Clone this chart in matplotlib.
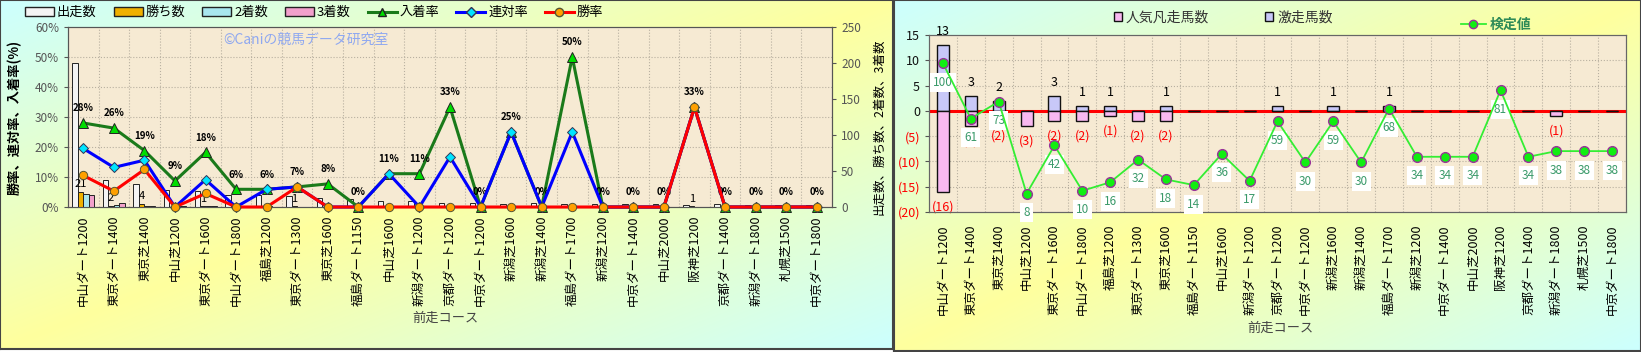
import matplotlib.pyplot as plt
import numpy as np
from matplotlib.patches import Patch
from matplotlib.lines import Line2D

plt.rcParams['font.family'] = ['Noto Sans CJK JP', 'DejaVu Sans']

# Data
courses = ['中山ダート1200', '東京ダート1400', '東京芝1400', '中山芝1200', '東京ダート1600',
           '中山ダート1800', '福島芝1200', '東京ダート1300', '東京芝1600', '福島ダート1150',
           '中山芝1600', '新潟ダート1200', '京都ダート1200', '中京ダート1200', '新潟芝1600',
           '新潟芝1400', '福島ダート1700', '新潟芝1200', '中京ダート1400', '中山芝2000',
           '阪神芝1200', '京都ダート1400', '新潟ダート1800', '札幌芝1500', '中京ダート1800']
starts = [200, 38, 32, 23, 22, 17, 17, 15, 13, 11, 9, 9, 6, 6, 4, 5, 4, 4, 4, 4, 3, 4, 3, 3, 3]
wins = [21, 2, 4, 0, 1, 0, 0, 1, 0, 0, 0, 0, 0, 0, 0, 0, 0, 0, 0, 0, 1, 0, 0, 0, 0]
seconds = [18, 3, 1, 0, 1, 0, 1, 0, 0, 0, 1, 0, 1, 0, 1, 0, 1, 0, 0, 0, 0, 0, 0, 0, 0]
thirds = [17, 5, 1, 2, 2, 1, 0, 0, 1, 0, 0, 1, 1, 0, 0, 0, 1, 0, 0, 0, 0, 0, 0, 0, 0]
win_rate = [10.5, 5.3, 12.5, 0, 4.5, 0, 0, 6.7, 0, 0, 0, 0, 0, 0, 0, 0, 0, 0, 0, 0, 33.3, 0, 0, 0, 0]
rentai_rate = [19.5, 13.2, 15.6, 0, 9.1, 0, 5.9, 6.7, 0, 0, 11.1, 0, 16.7, 0, 25, 0, 25, 0, 0, 0,
               33.3, 0, 0, 0, 0]
place_rate = [28, 26.3, 18.8, 8.7, 18.2, 5.9, 5.9, 6.7, 7.7, 0, 11.1, 11.1, 33.3, 0, 25, 0, 50, 0, 0, 0,
              33.3, 0, 0, 0, 0]

gekisou = [13, 3, 2, 0, 3, 1, 1, 0, 1, 0, 0, 0, 1, 0, 1, 0, 1, 0, 0, 0, 0, 0, 0, 0, 0]
bonsou = [16, 3, 2, 3, 2, 2, 1, 2, 2, 0, 0, 0, 0, 0, 0, 0, 0, 0, 0, 0, 0, 0, 1, 0, 0]
kentei = [100, 61, 73, 8, 42, 10, 16, 32, 18, 14, 36, 17, 59, 30, 59, 30, 68, 34, 34, 34, 81, 34, 38, 38, 38]

W, H = 1641, 352
fig = plt.figure(figsize=(W / 100, H / 100), dpi=100)
plot_bg = '#f6ead3'
grid_kw = dict(color='#b8b0a0', ls=':', lw=0.8, zorder=1)


def panel_bg(x0, x1, y0, y1):
    ax = fig.add_axes([x0 / W, 1 - y1 / H, (x1 - x0) / W, (y1 - y0) / H])
    ax.set_zorder(-5)
    xx, yy = np.meshgrid(np.linspace(0, 1, 300), np.linspace(0, 1, 300))
    f = (1 - np.abs(xx + yy - 1))[..., None]
    cyan = np.array([0.80, 1.0, 1.0])
    yellow = np.array([1.0, 1.0, 0.62])
    ax.imshow(cyan * (1 - f) + yellow * f, extent=[0, 1, 0, 1], aspect='auto', origin='upper')
    ax.set_xticks([])
    ax.set_yticks([])
    for s in ax.spines.values():
        s.set_color('#444')
        s.set_linewidth(1.5)


panel_bg(0, 893, 0, 349)
panel_bg(894, 1641, 0, 351)

x = np.arange(len(courses))

# ---------------- left panel ----------------
axb = fig.add_axes([68 / W, 1 - 207 / H, 764 / W, 180 / H])
axb.set_facecolor(plot_bg)
bw = 0.18
axb.bar(x - 0.27, starts, bw, color='#f4f4f4', edgecolor='#222', lw=0.7, zorder=3)
axb.bar(x - 0.09, wins, bw, color='#f0b000', edgecolor='#222', lw=0.7, zorder=3)
axb.bar(x + 0.09, seconds, bw, color='#a8e6ee', edgecolor='#222', lw=0.7, zorder=3)
axb.bar(x + 0.27, thirds, bw, color='#f2a0cc', edgecolor='#222', lw=0.7, zorder=3)
for i, w in enumerate(wins):
    if w > 0:
        axb.annotate(str(w), (i - 0.09, w), xytext=(0, 2), textcoords='offset points',
                     ha='center', va='bottom', fontsize=8)
axb.set_xlim(-0.5, len(courses) - 0.5)
axb.set_ylim(0, 250)
for k in range(1, 6):
    axb.axhline(250 / 6 * k, **grid_kw)
for i in range(len(courses) - 1):
    axb.axvline(i + 0.5, **grid_kw)
axb.set_xticks(x)
axb.set_xticklabels(courses, rotation=90, fontsize=9)
axb.tick_params(axis='x', length=0, pad=6)
for s in axb.spines.values():
    s.set_color('#555')

axp = axb.twinx()
# twinx moves the original ticks to the left, so put them back on the right
axb.yaxis.tick_right()
axb.set_yticks(range(0, 251, 50))
axb.tick_params(axis='y', labelsize=8.5, labelcolor='#555', length=3, color='#555')
axp.yaxis.tick_left()
axp.set_ylim(0, 60)
axp.set_yticks(range(0, 61, 10))
axp.set_yticklabels([f'{v}%' for v in range(0, 61, 10)])
axp.tick_params(axis='y', labelsize=8.5, labelcolor='#555', length=3, color='#555')
axp.plot(x, place_rate, color='#1a7a1a', lw=2.2, marker='^', ms=7, mfc='#00dd00', mec='#222',
         mew=0.7, zorder=3, clip_on=False)
axp.plot(x, rentai_rate, color='#0000ff', lw=2.2, marker='D', ms=5, mfc='#00e5ff', mec='#335',
         mew=0.7, zorder=4, clip_on=False)
axp.plot(x, win_rate, color='#ff0000', lw=2.2, marker='o', ms=6, mfc='#ffa000', mec='#553',
         mew=0.7, zorder=5, clip_on=False)
for i, v in enumerate(place_rate):
    axp.annotate(f'{v:.0f}%', (i, v), xytext=(0, 7), textcoords='offset points',
                 ha='center', va='bottom', fontsize=7, fontweight='bold')
for s in axp.spines.values():
    s.set_color('#555')
axp.text(0.203, 0.93, '©Caniの競馬データ研究室', transform=axp.transAxes, fontsize=10,
         color='#8fa8f0', va='center')

left_handles = [Patch(fc='#f4f4f4', ec='#222'), Patch(fc='#f0b000', ec='#222'),
                Patch(fc='#a8e6ee', ec='#222'), Patch(fc='#f2a0cc', ec='#222'),
                Line2D([], [], color='#1a7a1a', lw=2.2, marker='^', ms=6, mfc='#00dd00', mec='#222'),
                Line2D([], [], color='#0000ff', lw=2.2, marker='D', ms=5, mfc='#00e5ff', mec='#335'),
                Line2D([], [], color='#ff0000', lw=2.2, marker='o', ms=6, mfc='#ffa000', mec='#553')]
left_labels = ['出走数', '勝ち数', '2着数', '3着数', '入着率', '連対率', '勝率']
fig.legend(left_handles, left_labels, loc='upper left', bbox_to_anchor=(20 / W, 1 - 1 / H),
           ncol=7, frameon=False, fontsize=9.5, handlelength=2.2, handleheight=0.6,
           columnspacing=1.3, handletextpad=0.2, borderaxespad=0)

fig.text(15 / W, 1 - 117 / H, '勝率、連対率、入着率(%)', rotation=90, ha='center', va='center',
         fontsize=9.5, fontweight='bold')
fig.text(879 / W, 1 - 127 / H, '出走数、勝ち数、2着数、3着数', rotation=90, ha='center', va='center',
         fontsize=9)
fig.text(445 / W, 1 - 318 / H, '前走コース', ha='center', va='center', fontsize=9.5, color='#444')

# ---------------- right panel ----------------
ax = fig.add_axes([929 / W, 1 - 212 / H, 697 / W, 177 / H])
ax.set_facecolor(plot_bg)
ax.set_xlim(-0.5, len(courses) - 0.5)
ax.set_ylim(-20, 15)
for v in range(-15, 15, 5):
    ax.axhline(v, **grid_kw)
for i in range(len(courses) - 1):
    ax.axvline(i + 0.5, **grid_kw)
ax.axhline(0, color='#ff0000', lw=2.2, zorder=2)
ax.bar(x, gekisou, 0.43, color='#c8c8f8', edgecolor='#111', lw=1, zorder=3)
ax.bar(x, np.negative(bonsou), 0.43, color='#f8b8f0', edgecolor='#111', lw=1, zorder=3)
for i, g in enumerate(gekisou):
    if g > 0:
        ax.annotate(str(g), (i, g), xytext=(0, 5), textcoords='offset points', ha='center',
                    va='bottom', fontsize=9, annotation_clip=False)
for i, b in enumerate(bonsou):
    if b > 0:
        ax.annotate(f'({b})', (i, -b), xytext=(0, -6), textcoords='offset points', ha='center',
                    va='top', fontsize=9, color='#ff0000', annotation_clip=False)
ax.set_xticks(x)
ax.set_xticklabels(courses, rotation=90, fontsize=9)
ax.tick_params(axis='x', length=0, pad=9)
for s in ax.spines.values():
    s.set_color('#666')

axk = ax.twinx()
ax.yaxis.tick_left()
yt = list(range(-20, 16, 5))
ax.set_yticks(yt)
ax.set_yticklabels([f'({-v})' if v < 0 else str(v) for v in yt])
for lab, v in zip(ax.get_yticklabels(), yt):
    lab.set_color('#ff0000' if v < 0 else '#111')
ax.tick_params(axis='y', labelsize=9, length=3, color='#555')
axk.set_ylim(-5, 120)
axk.set_yticks([])
axk.plot(x, kentei, color='#33ee33', lw=1.3, marker='o', ms=7, mfc='#11ee11', mec='#993399',
         mew=1, zorder=4, clip_on=False)
for i, k in enumerate(kentei):
    axk.annotate(str(k), (i, k), xytext=(0, -9), textcoords='offset points', ha='center', va='top',
                 fontsize=8.5, color='#3a9a6a',
                 bbox=dict(boxstyle='square,pad=0.25', fc='white', ec='none'))
for s in axk.spines.values():
    s.set_color('#666')

fig.legend([Patch(fc='#f8b8f0', ec='#111'), Patch(fc='#c8c8f8', ec='#111')], ['人気凡走馬数', '激走馬数'],
           loc='upper left', bbox_to_anchor=(1108 / W, 1 - 5 / H), ncol=2, frameon=False,
           fontsize=10, handlelength=0.6, handleheight=0.6, handletextpad=0.3, columnspacing=4,
           borderaxespad=0, labelcolor='#333')
fig.legend([Line2D([], [], color='#33ee33', lw=1.3, marker='o', ms=6, mfc='#11ee11', mec='#993399')],
           ['検定値'], loc='upper left', bbox_to_anchor=(1455 / W, 1 - 12 / H), frameon=False,
           handlelength=1.8, handletextpad=0.3, borderaxespad=0,
           prop={'weight': 'bold', 'size': 10}, labelcolor='#2e8b57')
fig.text(1280 / W, 1 - 328 / H, '前走コース', ha='center', va='center', fontsize=9.5, color='#444')

plt.savefig('out.png', dpi=100)
